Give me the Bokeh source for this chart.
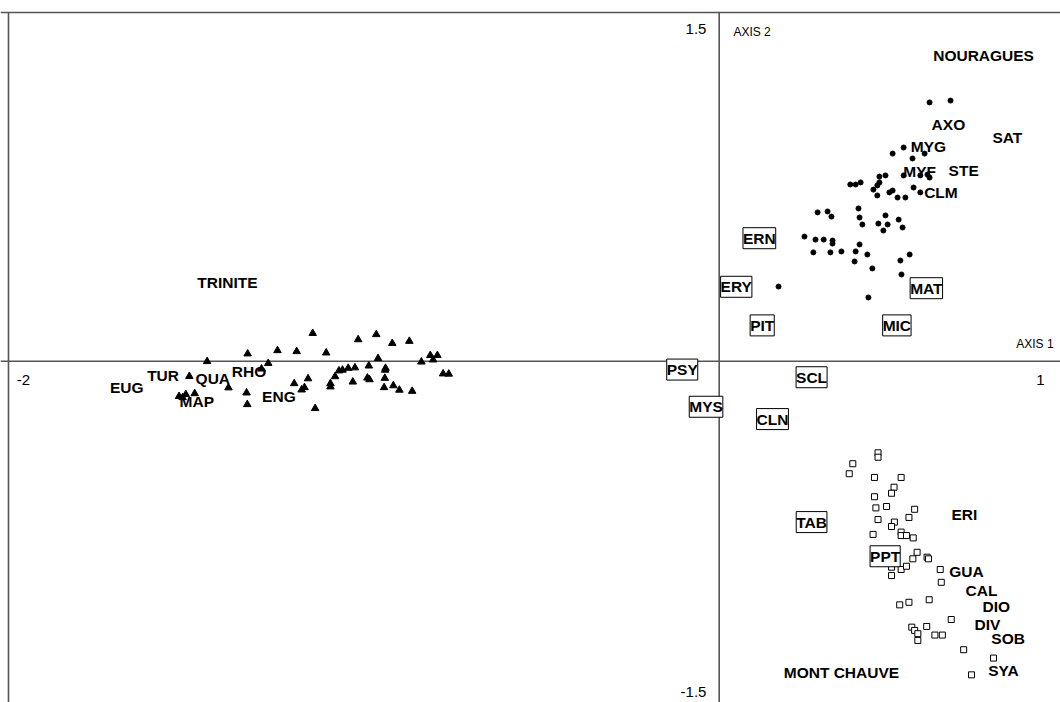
from bokeh.plotting import figure
from bokeh.models import Range1d, ColumnDataSource
from bokeh.core.properties import value
from bokeh.embed import file_html
from bokeh.resources import INLINE

# --- TRINITE sites (triangles) ---
tri_x = [-1.144, -1.016, -0.965, -0.920, -0.872, -1.327, -1.243, -1.189, -1.106, -1.441,
         -1.269, -0.960, -0.838, -0.813, -0.793, -0.805, -1.491, -1.288, -1.070, -1.060,
         -1.044, -1.025, -1.081, -0.986, -0.939, -0.940, -1.157, -1.196, -1.167, -1.175,
         -1.094, -1.094, -1.031, -0.990, -0.984, -0.941, -0.943, -0.917, -0.900, -0.864,
         -0.777, -0.761, -1.381, -1.330, -1.328, -1.137, -1.520, -1.501, -1.476, -1.510]
tri_y = [0.120, 0.093, 0.115, 0.077, 0.086, 0.032, 0.046, 0.042, 0.036, -0.001,
         -0.009, 0.012, -0.003, 0.025, 0.025, 0.006, -0.065, -0.033, -0.041, -0.038,
         -0.030, -0.028, -0.066, -0.020, -0.030, -0.038, -0.075, -0.096, -0.113, -0.123,
         -0.096, -0.110, -0.089, -0.072, -0.079, -0.073, -0.113, -0.105, -0.124, -0.129,
         -0.054, -0.055, -0.114, -0.136, -0.186, -0.203, -0.151, -0.143, -0.139, -0.156]

# --- NOURAGUES sites (dots) ---
dot_x = [0.592, 0.651, 0.519, 0.488, 0.578, 0.544, 0.519, 0.566, 0.586, 0.592,
         0.547, 0.566, 0.369, 0.384, 0.398, 0.451, 0.468, 0.451, 0.445, 0.434,
         0.445, 0.479, 0.488, 0.502, 0.524, 0.277, 0.305, 0.316, 0.392, 0.395,
         0.403, 0.468, 0.448, 0.474, 0.462, 0.505, 0.516, 0.240, 0.271, 0.294,
         0.319, 0.319, 0.395, 0.265, 0.313, 0.344, 0.384, 0.381, 0.417, 0.510,
         0.536, 0.431, 0.513, 0.167, 0.420]
dot_y = [1.113, 1.121, 0.919, 0.893, 0.893, 0.872, 0.799, 0.799, 0.803, 0.790,
         0.747, 0.726, 0.760, 0.760, 0.769, 0.794, 0.799, 0.769, 0.756, 0.738,
         0.713, 0.726, 0.734, 0.704, 0.704, 0.640, 0.644, 0.622, 0.657, 0.618,
         0.588, 0.627, 0.592, 0.588, 0.562, 0.609, 0.575, 0.536, 0.523, 0.523,
         0.519, 0.506, 0.502, 0.468, 0.468, 0.472, 0.472, 0.429, 0.459, 0.433,
         0.459, 0.399, 0.373, 0.321, 0.274]

# --- MONT CHAUVE sites (squares) ---
sq_x = [0.447, 0.447, 0.376, 0.366, 0.437, 0.512, 0.492, 0.485, 0.437, 0.441,
        0.471, 0.550, 0.534, 0.447, 0.493, 0.485, 0.433, 0.512, 0.512, 0.527,
        0.546, 0.557, 0.545, 0.585, 0.589, 0.485, 0.485, 0.512, 0.527, 0.622,
        0.625, 0.508, 0.534, 0.591, 0.653, 0.542, 0.550, 0.559, 0.559, 0.584,
        0.607, 0.628, 0.688, 0.772, 0.710]
sq_y = [-0.394, -0.413, -0.441, -0.484, -0.500, -0.500, -0.542, -0.568, -0.583, -0.631,
        -0.625, -0.637, -0.672, -0.681, -0.692, -0.711, -0.745, -0.735, -0.750, -0.750,
        -0.760, -0.822, -0.850, -0.843, -0.850, -0.886, -0.922, -0.896, -0.882, -0.896,
        -0.951, -1.048, -1.037, -1.026, -1.111, -1.144, -1.158, -1.172, -1.201, -1.141,
        -1.178, -1.178, -1.241, -1.277, -1.349]

# --- plain species / site labels ---
lab_text = ["NOURAGUES", "AXO", "SAT", "MYG", "MYF", "STE", "CLM", "TRINITE",
            "EUG", "TUR", "QUA", "RHO", "MAP", "ENG", "ERI", "GUA", "CAL", "DIO",
            "DIV", "SOB", "SYA", "MONT CHAUVE"]
lab_x = [0.744, 0.645, 0.811, 0.589, 0.564, 0.688, 0.624, -1.384,
         -1.667, -1.565, -1.425, -1.323, -1.470, -1.239, 0.690, 0.696, 0.738, 0.780,
         0.755, 0.813, 0.800, 0.344]
lab_y = [1.315, 1.018, 0.960, 0.923, 0.818, 0.820, 0.726, 0.338,
         -0.113, -0.062, -0.073, -0.043, -0.173, -0.152, -0.659, -0.905, -0.986, -1.055,
         -1.132, -1.191, -1.330, -1.338]

# --- boxed species labels ---
box_text = ["ERN", "ERY", "PIT", "MIC", "MAT", "PSY", "SCL", "MYS", "CLN", "TAB", "PPT"]
box_x = [0.113, 0.048, 0.121, 0.500, 0.583, -0.104, 0.260, -0.037, 0.150, 0.260, 0.467]
box_y = [0.529, 0.320, 0.154, 0.154, 0.314, -0.036, -0.069, -0.196, -0.249, -0.692, -0.839]

# --- axis extent labels ---
x_min, x_max = -2, 1
y_min, y_max = -1.5, 1.5

p = figure(width=1060, height=702, output_backend="svg", toolbar_location=None,
           x_range=Range1d(-2.0225, 0.9605), y_range=Range1d(-1.468, 1.5514),
           min_border=0, min_border_left=0, min_border_right=0,
           min_border_top=0, min_border_bottom=0)
p.axis.visible = False
p.grid.visible = False
p.outline_line_color = None
p.background_fill_color = "white"

axis_col = "#555555"
# frame (top and left) and the two axes through the origin
p.segment(x0=[-2.0225, -2.0, -2.0225, 0.0], y0=[1.5, -1.468, 0.0, -1.468],
          x1=[0.9605, -2.0, 0.9605, 0.0], y1=[1.5, 1.5, 0.0, 1.5],
          line_color=axis_col, line_width=1.6)

font = value("Liberation Sans")

# axis extent labels
p.text(x=[-0.036, -0.036], y=[1.427, -1.421], text=[str(y_max), str(y_min)],
       text_align="right", text_baseline="middle", text_font=font,
       text_font_size="15px", text_color="black")
p.text(x=[-1.958, 0.904], y=[-0.083, -0.079], text=[str(x_min), str(x_max)],
       text_align="center", text_baseline="middle", text_font=font,
       text_font_size="15px", text_color="black")
p.text(x=[0.040], y=[1.414], text=["AXIS 2"], text_align="left", text_baseline="middle",
       text_font=font, text_font_size="12px", text_color="black")
p.text(x=[0.941], y=[0.074], text=["AXIS 1"], text_align="right", text_baseline="middle",
       text_font=font, text_font_size="12px", text_color="black")

# points
p.scatter(tri_x, tri_y, marker="triangle", size=7.5, fill_color="black", line_color="black")
p.scatter(dot_x, dot_y, marker="circle", size=5, fill_color="black", line_color="black")
p.scatter(sq_x, sq_y, marker="square", size=6, fill_color="white", line_color="black",
          line_width=1)

# plain labels
p.text(x=lab_x, y=lab_y, text=lab_text, text_align="center", text_baseline="middle",
       text_font=font, text_font_size="15.5px", text_font_style="bold", text_color="black")

# boxed labels
src = ColumnDataSource(dict(x=box_x, y=box_y, text=box_text))
p.text(x="x", y="y", text="text", source=src, text_align="center", text_baseline="middle",
       text_font=font, text_font_size="15.5px", text_font_style="bold", text_color="black",
       background_fill_color="white", border_line_color="black", border_line_width=1,
       padding=dict(x=0, y=2))

open("out.html", "w").write(file_html(p, INLINE))
